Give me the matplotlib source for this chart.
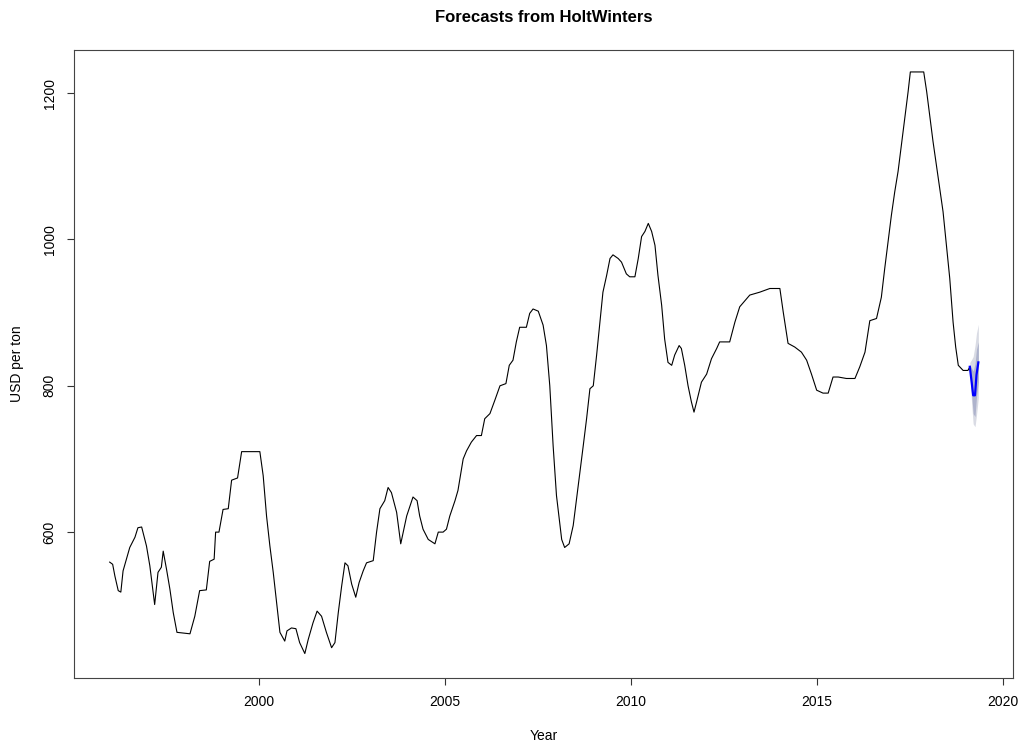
import matplotlib
matplotlib.use("Agg")
from matplotlib import pyplot as plt

plt.rcParams['font.family'] = ['Liberation Sans', 'DejaVu Sans']

annee = [1995.98, 1996.06, 1996.12, 1996.21, 1996.28, 1996.34, 1996.52, 1996.66, 1996.74, 1996.84,
         1996.97, 1997.06, 1997.19, 1997.28, 1997.37, 1997.42, 1997.51, 1997.60, 1997.69, 1997.79,
         1998.14, 1998.27, 1998.40, 1998.58, 1998.67, 1998.79, 1998.83, 1998.92, 1999.03, 1999.17,
         1999.26, 1999.42, 1999.53, 2000.02, 2000.11, 2000.20, 2000.29, 2000.38, 2000.47, 2000.56,
         2000.69, 2000.75, 2000.87, 2000.99, 2001.09, 2001.23, 2001.32, 2001.45, 2001.56, 2001.68,
         2001.81, 2001.95, 2002.04, 2002.13, 2002.22, 2002.31, 2002.39, 2002.49, 2002.60, 2002.69,
         2002.80, 2002.89, 2003.07, 2003.16, 2003.25, 2003.38, 2003.47, 2003.56, 2003.70, 2003.81,
         2003.97, 2004.14, 2004.25, 2004.32, 2004.41, 2004.55, 2004.73, 2004.82, 2004.95, 2005.04,
         2005.13, 2005.27, 2005.35, 2005.49, 2005.58, 2005.71, 2005.85, 2005.98, 2006.07, 2006.21,
         2006.34, 2006.48, 2006.64, 2006.73, 2006.83, 2006.92, 2007.01, 2007.19, 2007.28, 2007.37,
         2007.51, 2007.64, 2007.73, 2007.82, 2007.91, 2008.00, 2008.14, 2008.22, 2008.34, 2008.45,
         2008.54, 2008.63, 2008.72, 2008.81, 2008.90, 2008.99, 2009.08, 2009.17, 2009.25, 2009.35,
         2009.44, 2009.52, 2009.66, 2009.75, 2009.88, 2009.97, 2010.11, 2010.20, 2010.29, 2010.38,
         2010.47, 2010.56, 2010.65, 2010.73, 2010.83, 2010.91, 2011.00, 2011.10, 2011.18, 2011.30,
         2011.36, 2011.45, 2011.54, 2011.63, 2011.70, 2011.77, 2011.90, 2012.04, 2012.17, 2012.31,
         2012.39, 2012.66, 2012.80, 2012.93, 2013.20, 2013.47, 2013.74, 2014.01, 2014.10, 2014.23,
         2014.41, 2014.59, 2014.73, 2014.86, 2015.00, 2015.17, 2015.31, 2015.44, 2015.58, 2015.80,
         2016.03, 2016.16, 2016.30, 2016.43, 2016.61, 2016.74, 2016.83, 2016.92, 2017.01, 2017.10,
         2017.19, 2017.28, 2017.37, 2017.46, 2017.52, 2017.88, 2017.96, 2018.04, 2018.13, 2018.22,
         2018.31, 2018.40, 2018.49, 2018.58, 2018.67, 2018.74, 2018.81, 2018.94, 2019.07, 2019.12]
prix = [559, 556, 540, 520, 518, 547, 579, 593, 606, 607,
        581, 554, 501, 545, 552, 574, 549, 522, 490, 463,
        461, 485, 520, 521, 560, 563, 600, 600, 631, 632,
        671, 674, 710, 710, 677, 622, 581, 545, 504, 463,
        451, 465, 469, 468, 449, 434, 453, 476, 492, 485,
        463, 442, 449, 490, 526, 558, 554, 529, 511, 531,
        547, 558, 561, 600, 632, 643, 661, 654, 627, 584,
        622, 648, 643, 622, 604, 590, 584, 600, 600, 604,
        622, 643, 657, 700, 711, 723, 732, 732, 755, 762,
        780, 800, 803, 828, 835, 860, 880, 880, 899, 905,
        902, 883, 855, 800, 718, 650, 590, 579, 584, 609,
        645, 682, 718, 755, 796, 800, 842, 887, 928, 951,
        974, 979, 974, 969, 953, 949, 949, 974, 1004, 1011,
        1022, 1011, 992, 951, 910, 864, 832, 828, 842, 855,
        851, 828, 800, 778, 764, 778, 805, 816, 837, 851,
        860, 860, 887, 908, 924, 928, 933, 933, 901, 858,
        853, 846, 835, 816, 794, 790, 790, 812, 812, 810,
        810, 826, 846, 889, 892, 921, 960, 997, 1033, 1065,
        1093, 1129, 1166, 1202, 1229, 1229, 1202, 1170, 1134, 1102,
        1070, 1038, 992, 947, 887, 853, 828, 821, 821, 826]

# forecast part
annee_prev = [2019.12, 2019.17, 2019.21, 2019.26, 2019.30, 2019.35]
prev = [826, 805, 787, 787, 815, 832]
haut95 = [832, 836, 840, 855, 872, 884]
bas95 = [820, 775, 748, 744, 760, 784]
haut80 = [829, 824, 820, 830, 850, 860]
bas80 = [823, 788, 762, 758, 785, 805]

fig = plt.figure(figsize=(10.21, 7.46), dpi=100)
ax = fig.add_axes([74/1021, 1 - 677.7/746, (1013.3 - 74)/1021, (677.7 - 50)/746])

ax.fill_between(annee_prev, bas95, haut95, color='#D9DBE4', linewidth=0)
ax.fill_between(annee_prev, bas80, haut80, color='#AEB3CC', linewidth=0)
ax.plot(annee, prix, color='black', linewidth=0.8)
ax.plot(annee_prev, prev, color='#0000FF', linewidth=1.6)

ax.set_xlim(1995.02, 2020.29)
ax.set_ylim(401, 1259)
ax.set_xticks([2000, 2005, 2010, 2015, 2020])
ax.set_yticks([600, 800, 1000, 1200])
ax.tick_params(direction='out', length=5, width=0.8, color='#333333', labelsize=10, pad=7.5)
for lab in ax.get_yticklabels():
    lab.set_rotation(90)
    lab.set_va('center')
for s in ax.spines.values():
    s.set_color('#444444')
    s.set_linewidth(0.8)

fig.text(544/1021, 1 - 18/746, 'Forecasts from HoltWinters', ha='center', va='center',
         fontsize=12, fontweight='bold')
fig.text(544/1021, 1 - 736/746, 'Year', ha='center', va='center', fontsize=10)
fig.text(17/1021, 1 - 364/746, 'USD per ton', ha='center', va='center', rotation=90, fontsize=10)

plt.savefig('out.png', dpi=100)
